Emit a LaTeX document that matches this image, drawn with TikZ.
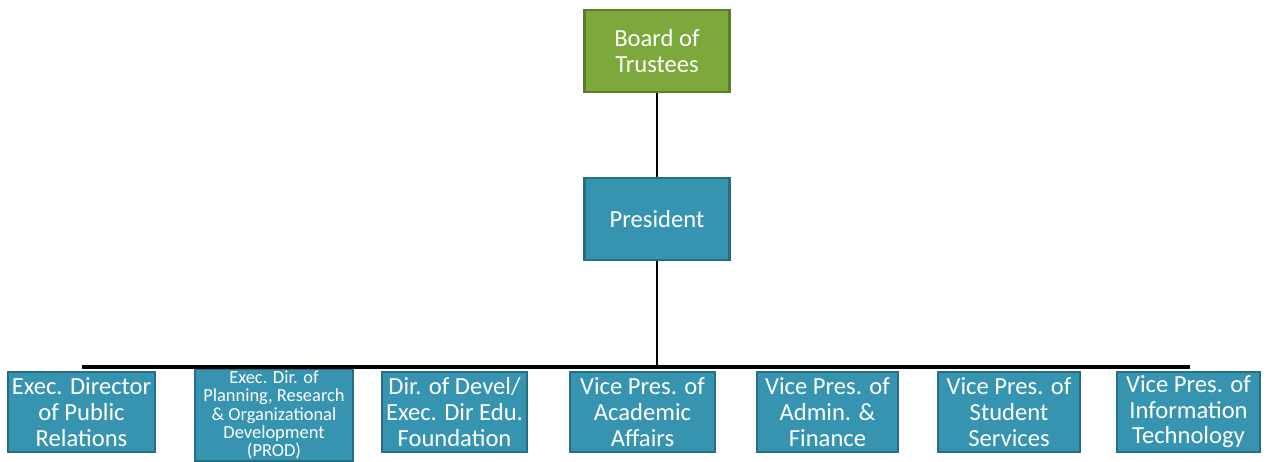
\documentclass[tikz,border=0pt]{standalone}
\usepackage{fontspec}
\setmainfont{Carlito}
\usetikzlibrary{calc,shadows}
\definecolor{boardgreen}{HTML}{7DA83B}
\definecolor{boardedge}{HTML}{5A7D27}
\definecolor{unitteal}{HTML}{3794B0}
\definecolor{unitedge}{HTML}{266E84}
\def\drawlink{\draw[color=black, line width=1.2pt]}
\def\drawbus{\draw[color=black, line width=1.8pt]}
\def\unitnode{\node[rectangle,draw=unitedge,line width=1.4pt,fill=unitteal,text=white,align=center,
  minimum width=2.9cm,minimum height=1.6cm,inner sep=0.3mm,
  drop shadow={opacity=0.35,shadow xshift=0.6pt,shadow yshift=-0.8pt},
  font=\fontsize{14}{14.6}\selectfont]}

\begin{document}
\begin{tikzpicture}[x=0.02cm,y=0.02cm]
\useasboundingbox (0,0) rectangle (1278,462);
\coordinate (top) at (657,411); % centre of the board box
\coordinate (pres_c) at ($ (top) - (0,168) $);
\coordinate (bus) at ($ (pres_c) - (0,148) $); % where the president line meets the bus
\coordinate (busL) at ($ (bus) - (575,0) $);
\coordinate (busR) at ($ (bus) + (533,0) $);

% ---------- top of the chart
\unitnode[draw=boardedge,fill=boardgreen,minimum height=1.64cm] (board) at (top) {Board of\\Trustees};
\unitnode[minimum height=1.64cm] (pres) at (pres_c) {President};
\drawlink (board.south) to (pres.north);
\drawlink (pres.south) to (bus);

% ---------- the units under the president
\unitnode[minimum width=2.94cm] (pr) at ($ (bus) + (-575.5,-45) $) {Exec. Director\\of Public\\Relations};
\unitnode[minimum width=3.16cm,minimum height=1.84cm,inner sep=0pt,font=\fontsize{10.5}{10.4}\selectfont] (prod) at ($ (bus) + (-383,-48) $) {Exec. Dir. of\\Planning, Research\\\& Organizational\\Development\\(PROD)};
\unitnode (devel) at ($ (bus) + (-202.5,-45) $) {Dir. of Devel/\\Exec. Dir Edu.\\Foundation};
\unitnode (acad) at ($ (bus) + (-14.5,-45) $) {Vice Pres. of\\Academic\\Affairs};
\unitnode[minimum width=2.82cm] (admin) at ($ (bus) + (170.5,-45) $) {Vice Pres. of\\Admin. \&\\Finance};
\unitnode[minimum width=2.84cm] (student) at ($ (bus) + (352,-45) $) {Vice Pres. of\\Student\\Services};
\unitnode[minimum width=2.86cm] (infotech) at ($ (bus) + (531.5,-45) $) {Vice Pres. of\\Information\\Technology};

% the bus line across the tops
\drawbus (busL) to (busR);
\end{tikzpicture}
\end{document}
